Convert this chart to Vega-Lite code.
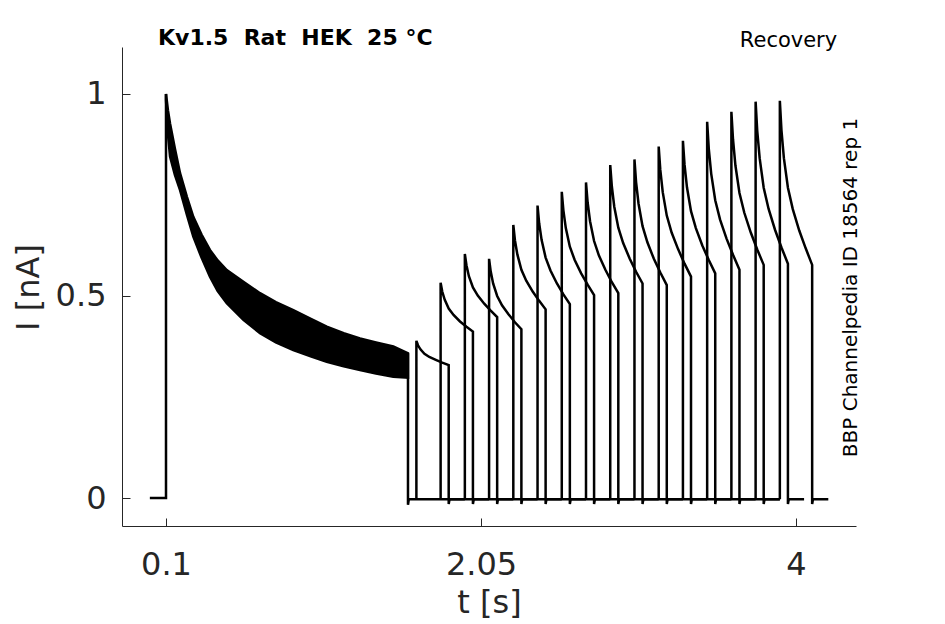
{
  "$schema": "https://vega.github.io/schema/vega-lite/v6.json",
  "width": 734,
  "height": 479,
  "autosize": "none",
  "padding": {"left": 122, "top": 47, "right": 89, "bottom": 98},
  "background": "white",
  "title": {
    "text": "Kv1.5\u00a0\u00a0Rat\u00a0\u00a0HEK\u00a0\u00a025\u00a0°C",
    "anchor": "start",
    "frame": "group",
    "dx": 36,
    "dy": 38,
    "offset": 0,
    "baseline": "alphabetic",
    "font": "DejaVu Sans",
    "fontSize": 22,
    "fontWeight": "bold",
    "color": "black"
  },
  "config": {
    "view": {"stroke": null},
    "axis": {
      "grid": false,
      "domainColor": "#262626",
      "tickColor": "#262626",
      "labelColor": "#262626",
      "titleColor": "#262626",
      "labelFont": "DejaVu Sans",
      "titleFont": "DejaVu Sans",
      "labelFontSize": 32,
      "titleFontSize": 32,
      "titleFontWeight": "normal",
      "tickSize": -8,
      "domainWidth": 1,
      "tickWidth": 1
    }
  },
  "datasets": {
    "band": [
      {"t": 0.1, "lo": 0.985, "hi": 1.0},
      {"t": 0.112, "lo": 0.9, "hi": 0.96},
      {"t": 0.125, "lo": 0.845, "hi": 0.927},
      {"t": 0.155, "lo": 0.8, "hi": 0.865},
      {"t": 0.187, "lo": 0.762, "hi": 0.804},
      {"t": 0.23, "lo": 0.7, "hi": 0.745},
      {"t": 0.269, "lo": 0.647, "hi": 0.696},
      {"t": 0.32, "lo": 0.595, "hi": 0.652},
      {"t": 0.372, "lo": 0.548, "hi": 0.614},
      {"t": 0.42, "lo": 0.512, "hi": 0.588},
      {"t": 0.476, "lo": 0.482, "hi": 0.564},
      {"t": 0.579, "lo": 0.441, "hi": 0.535},
      {"t": 0.682, "lo": 0.408, "hi": 0.507},
      {"t": 0.78, "lo": 0.385, "hi": 0.485},
      {"t": 0.888, "lo": 0.366, "hi": 0.465},
      {"t": 1.0, "lo": 0.35, "hi": 0.443},
      {"t": 1.095, "lo": 0.337, "hi": 0.424},
      {"t": 1.2, "lo": 0.326, "hi": 0.408},
      {"t": 1.301, "lo": 0.317, "hi": 0.395},
      {"t": 1.4, "lo": 0.308, "hi": 0.385},
      {"t": 1.507, "lo": 0.3, "hi": 0.375},
      {"t": 1.598, "lo": 0.298, "hi": 0.358}
    ],
    "traces": [
      {"p": 0, "k": 0, "t": 0.0, "i": 0.0},
      {"p": 0, "k": 1, "t": 0.1, "i": 0.0},
      {"p": 0, "k": 2, "t": 0.1, "i": 1.0},
      {"p": 99, "k": 0, "t": 1.598, "i": 0.358},
      {"p": 99, "k": 1, "t": 1.598, "i": -0.017},
      {"p": 99, "k": 2, "t": 1.603, "i": -0.003},
      {"p": 99, "k": 3, "t": 3.9, "i": -0.003},

      {"p": 1, "k": 0, "t": 1.65, "i": -0.003},
      {"p": 1, "k": 1, "t": 1.65, "i": 0.389},
      {"p": 1, "k": 2, "t": 1.66, "i": 0.378},
      {"p": 1, "k": 3, "t": 1.675, "i": 0.368},
      {"p": 1, "k": 4, "t": 1.7, "i": 0.357},
      {"p": 1, "k": 5, "t": 1.73, "i": 0.349},
      {"p": 1, "k": 6, "t": 1.77, "i": 0.342},
      {"p": 1, "k": 7, "t": 1.81, "i": 0.335},
      {"p": 1, "k": 8, "t": 1.85, "i": 0.329},
      {"p": 1, "k": 9, "t": 1.85, "i": -0.015},
      {"p": 1, "k": 10, "t": 1.855, "i": -0.003},
      {"p": 1, "k": 11, "t": 1.95, "i": -0.003},

      {"p": 2, "k": 0, "t": 1.8, "i": -0.003},
      {"p": 2, "k": 1, "t": 1.8, "i": 0.533},
      {"p": 2, "k": 2, "t": 1.81, "i": 0.511},
      {"p": 2, "k": 3, "t": 1.825, "i": 0.491},
      {"p": 2, "k": 4, "t": 1.85, "i": 0.469},
      {"p": 2, "k": 5, "t": 1.88, "i": 0.453},
      {"p": 2, "k": 6, "t": 1.92, "i": 0.437},
      {"p": 2, "k": 7, "t": 1.96, "i": 0.424},
      {"p": 2, "k": 8, "t": 2.0, "i": 0.412},
      {"p": 2, "k": 9, "t": 2.0, "i": -0.015},
      {"p": 2, "k": 10, "t": 2.005, "i": -0.003},
      {"p": 2, "k": 11, "t": 2.1, "i": -0.003},

      {"p": 3, "k": 0, "t": 1.95, "i": -0.003},
      {"p": 3, "k": 1, "t": 1.95, "i": 0.604},
      {"p": 3, "k": 2, "t": 1.96, "i": 0.576},
      {"p": 3, "k": 3, "t": 1.975, "i": 0.549},
      {"p": 3, "k": 4, "t": 2.0, "i": 0.521},
      {"p": 3, "k": 5, "t": 2.03, "i": 0.501},
      {"p": 3, "k": 6, "t": 2.07, "i": 0.481},
      {"p": 3, "k": 7, "t": 2.11, "i": 0.464},
      {"p": 3, "k": 8, "t": 2.15, "i": 0.448},
      {"p": 3, "k": 9, "t": 2.15, "i": -0.015},
      {"p": 3, "k": 10, "t": 2.155, "i": -0.003},
      {"p": 3, "k": 11, "t": 2.25, "i": -0.003},

      {"p": 4, "k": 0, "t": 2.1, "i": -0.003},
      {"p": 4, "k": 1, "t": 2.1, "i": 0.592},
      {"p": 4, "k": 2, "t": 2.11, "i": 0.561},
      {"p": 4, "k": 3, "t": 2.125, "i": 0.531},
      {"p": 4, "k": 4, "t": 2.15, "i": 0.5},
      {"p": 4, "k": 5, "t": 2.18, "i": 0.477},
      {"p": 4, "k": 6, "t": 2.22, "i": 0.455},
      {"p": 4, "k": 7, "t": 2.26, "i": 0.435},
      {"p": 4, "k": 8, "t": 2.3, "i": 0.418},
      {"p": 4, "k": 9, "t": 2.3, "i": -0.015},
      {"p": 4, "k": 10, "t": 2.305, "i": -0.003},
      {"p": 4, "k": 11, "t": 2.4, "i": -0.003},

      {"p": 5, "k": 0, "t": 2.25, "i": -0.003},
      {"p": 5, "k": 1, "t": 2.25, "i": 0.676},
      {"p": 5, "k": 2, "t": 2.26, "i": 0.638},
      {"p": 5, "k": 3, "t": 2.275, "i": 0.603},
      {"p": 5, "k": 4, "t": 2.3, "i": 0.565},
      {"p": 5, "k": 5, "t": 2.33, "i": 0.538},
      {"p": 5, "k": 6, "t": 2.37, "i": 0.511},
      {"p": 5, "k": 7, "t": 2.41, "i": 0.488},
      {"p": 5, "k": 8, "t": 2.45, "i": 0.467},
      {"p": 5, "k": 9, "t": 2.45, "i": -0.015},
      {"p": 5, "k": 10, "t": 2.455, "i": -0.003},
      {"p": 5, "k": 11, "t": 2.55, "i": -0.003},

      {"p": 6, "k": 0, "t": 2.4, "i": -0.003},
      {"p": 6, "k": 1, "t": 2.4, "i": 0.724},
      {"p": 6, "k": 2, "t": 2.41, "i": 0.68},
      {"p": 6, "k": 3, "t": 2.425, "i": 0.639},
      {"p": 6, "k": 4, "t": 2.45, "i": 0.595},
      {"p": 6, "k": 5, "t": 2.48, "i": 0.563},
      {"p": 6, "k": 6, "t": 2.52, "i": 0.531},
      {"p": 6, "k": 7, "t": 2.56, "i": 0.504},
      {"p": 6, "k": 8, "t": 2.6, "i": 0.48},
      {"p": 6, "k": 9, "t": 2.6, "i": -0.015},
      {"p": 6, "k": 10, "t": 2.605, "i": -0.003},
      {"p": 6, "k": 11, "t": 2.7, "i": -0.003},

      {"p": 7, "k": 0, "t": 2.55, "i": -0.003},
      {"p": 7, "k": 1, "t": 2.55, "i": 0.758},
      {"p": 7, "k": 2, "t": 2.56, "i": 0.712},
      {"p": 7, "k": 3, "t": 2.575, "i": 0.668},
      {"p": 7, "k": 4, "t": 2.6, "i": 0.622},
      {"p": 7, "k": 5, "t": 2.63, "i": 0.589},
      {"p": 7, "k": 6, "t": 2.67, "i": 0.556},
      {"p": 7, "k": 7, "t": 2.71, "i": 0.528},
      {"p": 7, "k": 8, "t": 2.75, "i": 0.502},
      {"p": 7, "k": 9, "t": 2.75, "i": -0.015},
      {"p": 7, "k": 10, "t": 2.755, "i": -0.003},
      {"p": 7, "k": 11, "t": 2.85, "i": -0.003},

      {"p": 8, "k": 0, "t": 2.7, "i": -0.003},
      {"p": 8, "k": 1, "t": 2.7, "i": 0.781},
      {"p": 8, "k": 2, "t": 2.71, "i": 0.732},
      {"p": 8, "k": 3, "t": 2.725, "i": 0.685},
      {"p": 8, "k": 4, "t": 2.75, "i": 0.636},
      {"p": 8, "k": 5, "t": 2.78, "i": 0.6},
      {"p": 8, "k": 6, "t": 2.82, "i": 0.565},
      {"p": 8, "k": 7, "t": 2.86, "i": 0.534},
      {"p": 8, "k": 8, "t": 2.9, "i": 0.507},
      {"p": 8, "k": 9, "t": 2.9, "i": -0.015},
      {"p": 8, "k": 10, "t": 2.905, "i": -0.003},
      {"p": 8, "k": 11, "t": 3.0, "i": -0.003},

      {"p": 9, "k": 0, "t": 2.85, "i": -0.003},
      {"p": 9, "k": 1, "t": 2.85, "i": 0.824},
      {"p": 9, "k": 2, "t": 2.86, "i": 0.771},
      {"p": 9, "k": 3, "t": 2.875, "i": 0.721},
      {"p": 9, "k": 4, "t": 2.9, "i": 0.669},
      {"p": 9, "k": 5, "t": 2.93, "i": 0.631},
      {"p": 9, "k": 6, "t": 2.97, "i": 0.593},
      {"p": 9, "k": 7, "t": 3.01, "i": 0.56},
      {"p": 9, "k": 8, "t": 3.05, "i": 0.531},
      {"p": 9, "k": 9, "t": 3.05, "i": -0.015},
      {"p": 9, "k": 10, "t": 3.055, "i": -0.003},
      {"p": 9, "k": 11, "t": 3.15, "i": -0.003},

      {"p": 10, "k": 0, "t": 3.0, "i": -0.003},
      {"p": 10, "k": 1, "t": 3.0, "i": 0.838},
      {"p": 10, "k": 2, "t": 3.01, "i": 0.782},
      {"p": 10, "k": 3, "t": 3.025, "i": 0.729},
      {"p": 10, "k": 4, "t": 3.05, "i": 0.673},
      {"p": 10, "k": 5, "t": 3.08, "i": 0.633},
      {"p": 10, "k": 6, "t": 3.12, "i": 0.592},
      {"p": 10, "k": 7, "t": 3.16, "i": 0.558},
      {"p": 10, "k": 8, "t": 3.2, "i": 0.527},
      {"p": 10, "k": 9, "t": 3.2, "i": -0.015},
      {"p": 10, "k": 10, "t": 3.205, "i": -0.003},
      {"p": 10, "k": 11, "t": 3.3, "i": -0.003},

      {"p": 11, "k": 0, "t": 3.15, "i": -0.003},
      {"p": 11, "k": 1, "t": 3.15, "i": 0.87},
      {"p": 11, "k": 2, "t": 3.16, "i": 0.812},
      {"p": 11, "k": 3, "t": 3.175, "i": 0.757},
      {"p": 11, "k": 4, "t": 3.2, "i": 0.699},
      {"p": 11, "k": 5, "t": 3.23, "i": 0.657},
      {"p": 11, "k": 6, "t": 3.27, "i": 0.616},
      {"p": 11, "k": 7, "t": 3.31, "i": 0.58},
      {"p": 11, "k": 8, "t": 3.35, "i": 0.548},
      {"p": 11, "k": 9, "t": 3.35, "i": -0.015},
      {"p": 11, "k": 10, "t": 3.355, "i": -0.003},
      {"p": 11, "k": 11, "t": 3.45, "i": -0.003},

      {"p": 12, "k": 0, "t": 3.3, "i": -0.003},
      {"p": 12, "k": 1, "t": 3.3, "i": 0.884},
      {"p": 12, "k": 2, "t": 3.31, "i": 0.825},
      {"p": 12, "k": 3, "t": 3.325, "i": 0.769},
      {"p": 12, "k": 4, "t": 3.35, "i": 0.71},
      {"p": 12, "k": 5, "t": 3.38, "i": 0.668},
      {"p": 12, "k": 6, "t": 3.42, "i": 0.625},
      {"p": 12, "k": 7, "t": 3.46, "i": 0.589},
      {"p": 12, "k": 8, "t": 3.5, "i": 0.556},
      {"p": 12, "k": 9, "t": 3.5, "i": -0.015},
      {"p": 12, "k": 10, "t": 3.505, "i": -0.003},
      {"p": 12, "k": 11, "t": 3.6, "i": -0.003},

      {"p": 13, "k": 0, "t": 3.45, "i": -0.003},
      {"p": 13, "k": 1, "t": 3.45, "i": 0.931},
      {"p": 13, "k": 2, "t": 3.46, "i": 0.865},
      {"p": 13, "k": 3, "t": 3.475, "i": 0.803},
      {"p": 13, "k": 4, "t": 3.5, "i": 0.737},
      {"p": 13, "k": 5, "t": 3.53, "i": 0.689},
      {"p": 13, "k": 6, "t": 3.57, "i": 0.642},
      {"p": 13, "k": 7, "t": 3.61, "i": 0.602},
      {"p": 13, "k": 8, "t": 3.65, "i": 0.565},
      {"p": 13, "k": 9, "t": 3.65, "i": -0.015},
      {"p": 13, "k": 10, "t": 3.655, "i": -0.003},
      {"p": 13, "k": 11, "t": 3.75, "i": -0.003},

      {"p": 14, "k": 0, "t": 3.6, "i": -0.003},
      {"p": 14, "k": 1, "t": 3.6, "i": 0.956},
      {"p": 14, "k": 2, "t": 3.61, "i": 0.888},
      {"p": 14, "k": 3, "t": 3.625, "i": 0.823},
      {"p": 14, "k": 4, "t": 3.65, "i": 0.755},
      {"p": 14, "k": 5, "t": 3.68, "i": 0.706},
      {"p": 14, "k": 6, "t": 3.72, "i": 0.657},
      {"p": 14, "k": 7, "t": 3.76, "i": 0.615},
      {"p": 14, "k": 8, "t": 3.8, "i": 0.577},
      {"p": 14, "k": 9, "t": 3.8, "i": -0.015},
      {"p": 14, "k": 10, "t": 3.805, "i": -0.003},
      {"p": 14, "k": 11, "t": 3.9, "i": -0.003},

      {"p": 15, "k": 0, "t": 3.75, "i": -0.003},
      {"p": 15, "k": 1, "t": 3.75, "i": 0.981},
      {"p": 15, "k": 2, "t": 3.76, "i": 0.909},
      {"p": 15, "k": 3, "t": 3.775, "i": 0.841},
      {"p": 15, "k": 4, "t": 3.8, "i": 0.768},
      {"p": 15, "k": 5, "t": 3.83, "i": 0.716},
      {"p": 15, "k": 6, "t": 3.87, "i": 0.664},
      {"p": 15, "k": 7, "t": 3.91, "i": 0.62},
      {"p": 15, "k": 8, "t": 3.95, "i": 0.58},
      {"p": 15, "k": 9, "t": 3.95, "i": -0.015},
      {"p": 15, "k": 10, "t": 3.955, "i": -0.003},
      {"p": 15, "k": 11, "t": 4.05, "i": -0.003},

      {"p": 16, "k": 0, "t": 3.9, "i": -0.003},
      {"p": 16, "k": 1, "t": 3.9, "i": 0.983},
      {"p": 16, "k": 2, "t": 3.91, "i": 0.91},
      {"p": 16, "k": 3, "t": 3.925, "i": 0.841},
      {"p": 16, "k": 4, "t": 3.95, "i": 0.768},
      {"p": 16, "k": 5, "t": 3.98, "i": 0.715},
      {"p": 16, "k": 6, "t": 4.02, "i": 0.662},
      {"p": 16, "k": 7, "t": 4.06, "i": 0.618},
      {"p": 16, "k": 8, "t": 4.1, "i": 0.577},
      {"p": 16, "k": 9, "t": 4.1, "i": -0.015},
      {"p": 16, "k": 10, "t": 4.105, "i": -0.003},
      {"p": 16, "k": 11, "t": 4.2, "i": -0.003}
    ]
  },
  "layer": [
    {
      "data": {"name": "band"},
      "mark": {"type": "area", "color": "black", "stroke": "black", "strokeWidth": 2.5},
      "encoding": {
        "x": {
          "field": "t", "type": "quantitative",
          "scale": {"domain": [-0.1724, 4.3714], "nice": false, "zero": false},
          "axis": {
            "values": [0.1, 2.05, 4], "format": ".3~g", "title": "t [s]",
            "labelPadding": 31, "titleY": 86, "titleBaseline": "alphabetic"
          }
        },
        "y": {
          "field": "hi", "type": "quantitative",
          "scale": {"domain": [-0.0693, 1.1163], "nice": false, "zero": false},
          "axis": {
            "values": [0, 0.5, 1], "format": ".2~g", "title": "I [nA]",
            "labelPadding": 24, "titleX": -94, "titleY": 240, "titleAngle": 270,
            "titleBaseline": "middle", "titleAlign": "center"
          }
        },
        "y2": {"field": "lo"}
      }
    },
    {
      "data": {"name": "traces"},
      "mark": {"type": "line", "color": "black", "strokeWidth": 2.5, "strokeJoin": "miter"},
      "encoding": {
        "x": {
          "field": "t", "type": "quantitative",
          "scale": {"domain": [-0.1724, 4.3714], "nice": false, "zero": false},
          "axis": {
            "orient": "top", "domain": false, "ticks": false, "labels": false,
            "title": "Recovery", "titleX": 666, "titleY": -1, "titleAngle": 0,
            "titleBaseline": "alphabetic", "titleAlign": "center",
            "titleFontSize": 21, "titleColor": "black"
          }
        },
        "y": {
          "field": "i", "type": "quantitative",
          "scale": {"domain": [-0.0693, 1.1163], "nice": false, "zero": false},
          "axis": {
            "orient": "right", "domain": false, "ticks": false, "labels": false,
            "title": "BBP Channelpedia ID 18564 rep 1", "titleX": -6, "titleY": 240,
            "titleAngle": 270, "titleBaseline": "middle", "titleAlign": "center",
            "titleFontSize": 20, "titleColor": "black"
          }
        },
        "detail": {"field": "p", "type": "nominal"},
        "order": {"field": "k", "type": "quantitative"}
      }
    }
  ],
  "resolve": {"axis": {"x": "independent", "y": "independent"}}
}
